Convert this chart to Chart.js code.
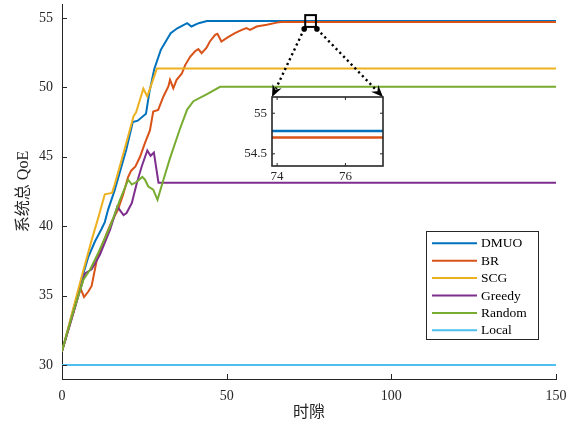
<!DOCTYPE html>
<html>
<head>
<meta charset="utf-8">
<script src="https://cdn.jsdelivr.net/npm/chart.js@4/dist/chart.umd.min.js"></script>
<style>
  html, body { margin: 0; padding: 0; background: #fff; }
  #wrap { position: relative; width: 574px; height: 425px; }
  #main { position: absolute; left: 0; top: 0; }
  #inset { position: absolute; left: 232px; top: 88px; }
</style>
</head>
<body>
<div id="wrap">
  <canvas id="main" width="574" height="425"></canvas>
  <canvas id="inset" width="156" height="100"></canvas>
</div>
<script>
// Series labels and colours
const seriesNames = ['DMUO', 'BR', 'SCG', 'Greedy', 'Random', 'Local'];
const seriesColors = ['#0072BD', '#D95319', '#EDB120', '#7E2F8E', '#77AC30', '#4DBEEE'];

// System QoE per time slot (slot index, value)
const dmuoSlot = [0, 3, 6, 8, 10, 12, 13, 14, 16, 19.5, 21.5, 23, 25.5, 26.5, 28, 30, 33, 35, 38, 39.3, 41.5, 44, 150];
const dmuoQoE  = [31.0, 33.6, 36.2, 37.8, 38.9, 39.8, 40.3, 41.2, 42.6, 45.5, 47.5, 47.6, 48.1, 49.6, 51.3, 52.7, 53.9, 54.25, 54.62, 54.38, 54.62, 54.78, 54.78];

const brSlot = [0, 2, 4, 5.5, 6.7, 8, 9, 10.5, 12, 13.6, 15, 17, 18.6, 20, 21, 22.3, 23.7, 25.2, 26.7, 27.7, 29.2, 30.8, 32.3, 32.8, 33.8, 34.8, 36.4, 37.4, 38.9, 40.4, 41.4, 42.4, 43.9, 44.9, 46.5, 47.2, 48.4, 50.3, 52.5, 54.6, 56, 57.1, 59.1, 62.2, 65.2, 66.5, 150];
const brQoE  = [31.0, 32.6, 34.2, 35.6, 34.9, 35.3, 35.7, 37.5, 38.5, 39.5, 40.3, 41.2, 42.3, 43.5, 44.0, 44.3, 45.0, 46.0, 46.9, 48.26, 48.38, 49.34, 50.06, 50.54, 49.94, 50.54, 51.0, 51.6, 52.2, 52.6, 52.75, 52.46, 52.85, 53.3, 53.78, 53.85, 53.3, 53.6, 53.9, 54.14, 54.26, 54.14, 54.38, 54.5, 54.66, 54.7, 54.7];

const scgSlot = [0, 3, 6, 9, 11, 13, 15.2, 16, 18, 20, 21.7, 22.5, 24.7, 25.9, 28.8, 150];
const scgQoE  = [31.0, 33.7, 36.4, 39.0, 40.6, 42.3, 42.4, 43.0, 44.7, 46.4, 47.9, 48.2, 49.9, 49.35, 51.35, 51.35];

const greedySlot = [0, 3, 7, 9, 11.5, 14.6, 16.8, 18.7, 19.6, 21.2, 22.7, 24.2, 25.9, 26.9, 27.9, 29.3, 150];
const greedyQoE  = [31.0, 33.4, 36.6, 36.9, 37.95, 39.75, 41.4, 40.8, 40.95, 41.67, 43.1, 44.3, 45.45, 45.07, 45.3, 43.13, 43.13];

const randomSlot = [0, 3, 6.5, 8.5, 11, 14.6, 17.6, 20.1, 21.2, 22.7, 24.4, 25.2, 26.2, 27.7, 29, 30.8, 32.8, 35.8, 38, 39.9, 43.9, 48, 150];
const randomQoE  = [31.0, 33.5, 36.15, 36.87, 38.07, 39.98, 41.9, 43.35, 43.0, 43.2, 43.55, 43.35, 42.86, 42.63, 41.9, 43.35, 44.9, 47.0, 48.4, 49.0, 49.5, 50.04, 50.04];

const localSlot = [0, 150];
const localQoE  = [30, 30];

// Axis ticks
const xTicks = [0, 50, 100, 150];
const yTicks = [30, 35, 40, 45, 50, 55];
const insetXTicks = [74, 76];
const insetYTicks = [54.5, 55];

// Magnified window
const zoomSlot = [73.85, 77.1];
const zoomQoE  = [54.35, 55.2];

const slotArrays = [dmuoSlot, brSlot, scgSlot, greedySlot, randomSlot, localSlot];
const qoeArrays  = [dmuoQoE, brQoE, scgQoE, greedyQoE, randomQoE, localQoE];

const axisColor = '#262626';
const serif = "'Liberation Serif', 'Times New Roman', serif";
const cjk = "'Liberation Serif', 'Noto Sans CJK SC', serif";

function makeDataset(i, width) {
  return {
    label: seriesNames[i],
    data: slotArrays[i].map((x, k) => ({ x: x, y: qoeArrays[i][k] })),
    borderColor: seriesColors[i],
    backgroundColor: seriesColors[i],
    borderWidth: width,
    pointRadius: 0,
    tension: 0,
    fill: false,
    order: seriesNames.length - 1 - i
  };
}

function fixedTicks(list) {
  return function (scale) { scale.ticks = list.map(v => ({ value: v })); };
}

// keep the plot area exactly where the layout padding puts it
function fixSize(prop, size) {
  return function (s) {
    s[prop] = size;
    s.paddingTop = 0; s.paddingBottom = 0; s.paddingLeft = 0; s.paddingRight = 0;
  };
}

const plainLabel = v => String(v);

// ---------- inset (magnified view) ----------
const insetFrame = {
  id: 'insetFrame',
  beforeDatasetsDraw(chart) {
    const a = chart.chartArea, ctx = chart.ctx;
    ctx.save();
    ctx.fillStyle = '#fff';
    ctx.fillRect(a.left, a.top, a.right - a.left, a.bottom - a.top);
    ctx.restore();
  },
  afterDraw(chart) {
    const a = chart.chartArea, ctx = chart.ctx;
    const sx = chart.scales.x, sy = chart.scales.y;
    ctx.save();
    ctx.strokeStyle = axisColor;
    ctx.lineWidth = 1;
    const t = 3;
    ctx.beginPath();
    insetXTicks.forEach(v => {
      const px = sx.getPixelForValue(v);
      ctx.moveTo(px, a.bottom); ctx.lineTo(px, a.bottom - t);
      ctx.moveTo(px, a.top); ctx.lineTo(px, a.top + t);
    });
    insetYTicks.forEach(v => {
      const py = sy.getPixelForValue(v);
      ctx.moveTo(a.left, py); ctx.lineTo(a.left + t, py);
      ctx.moveTo(a.right, py); ctx.lineTo(a.right - t, py);
    });
    ctx.stroke();
    ctx.lineWidth = 1.6;
    ctx.strokeRect(a.left, a.top, a.right - a.left, a.bottom - a.top);
    ctx.restore();
  }
};

const insetChart = new Chart(document.getElementById('inset'), {
  type: 'line',
  data: { datasets: [makeDataset(0, 2.5), makeDataset(1, 2.5)] },
  options: {
    responsive: false,
    animation: false,
    devicePixelRatio: 1,
    events: [],
    layout: { padding: { top: 9, right: 5, left: 0, bottom: 0 } },
    plugins: { legend: { display: false }, tooltip: { enabled: false } },
    scales: {
      x: {
        type: 'linear', min: zoomSlot[0], max: zoomSlot[1],
        afterBuildTicks: fixedTicks(insetXTicks),
        afterFit: fixSize('height', 22),
        grid: { drawOnChartArea: false, drawTicks: false },
        border: { display: false },
        ticks: { padding: 3, color: axisColor, font: { family: serif, size: 13 }, maxRotation: 0, autoSkip: false, callback: plainLabel }
      },
      y: {
        type: 'linear', min: zoomQoE[0], max: zoomQoE[1],
        afterBuildTicks: fixedTicks(insetYTicks),
        afterFit: fixSize('width', 40),
        grid: { drawOnChartArea: false, drawTicks: false },
        border: { display: false },
        ticks: { padding: 5, color: axisColor, font: { family: serif, size: 13 }, autoSkip: false, callback: plainLabel }
      }
    }
  },
  plugins: [insetFrame]
});

// ---------- main chart decorations ----------
const insetCanvas = document.getElementById('inset');

function arrowHead(ctx, x0, y0, x1, y1) {
  const ang = Math.atan2(y1 - y0, x1 - x0);
  const len = 12, half = 5, notch = 8;
  const c = Math.cos(ang), s = Math.sin(ang);
  const bx = x1 - len * c, by = y1 - len * s;
  ctx.beginPath();
  ctx.moveTo(x1, y1);
  ctx.lineTo(bx - half * s, by + half * c);
  ctx.lineTo(x1 - notch * c, y1 - notch * s);
  ctx.lineTo(bx + half * s, by - half * c);
  ctx.closePath();
  ctx.fill();
}

const decorations = {
  id: 'decorations',
  afterDraw(chart) {
    const ctx = chart.ctx, a = chart.chartArea;
    const sx = chart.scales.x, sy = chart.scales.y;
    ctx.save();

    // inward tick marks
    ctx.strokeStyle = axisColor;
    ctx.lineWidth = 1;
    ctx.beginPath();
    xTicks.forEach(v => {
      const px = Math.round(sx.getPixelForValue(v)) + 0.5;
      ctx.moveTo(px, a.bottom); ctx.lineTo(px, a.bottom - 5);
    });
    yTicks.forEach(v => {
      const py = Math.round(sy.getPixelForValue(v)) + 0.5;
      ctx.moveTo(a.left, py); ctx.lineTo(a.left + 5, py);
    });
    ctx.stroke();

    // magnified window outline
    const bl = sx.getPixelForValue(zoomSlot[0]), br = sx.getPixelForValue(zoomSlot[1]);
    const bt = sy.getPixelForValue(zoomQoE[1]), bb = sy.getPixelForValue(zoomQoE[0]);
    ctx.strokeStyle = '#000';
    ctx.lineWidth = 2;
    ctx.strokeRect(bl, bt, br - bl, bb - bt);

    // dotted connectors to the inset
    const ia = insetChart.chartArea;
    const ox = insetCanvas.offsetLeft, oy = insetCanvas.offsetTop;
    const targets = [[ox + ia.left, oy + ia.top], [ox + ia.right, oy + ia.top]];
    const starts = [[bl - 1, bb + 2], [br + 1, bb + 2]];
    ctx.fillStyle = '#000';
    for (let k = 0; k < 2; k++) {
      const [x0, y0] = starts[k], [x1, y1] = targets[k];
      const d = Math.hypot(x1 - x0, y1 - y0);
      const ex = x1 - (x1 - x0) * 9 / d, ey = y1 - (y1 - y0) * 9 / d;
      ctx.save();
      ctx.setLineDash([2.2, 3.2]);
      ctx.lineWidth = 2.4;
      ctx.lineCap = 'butt';
      ctx.beginPath();
      ctx.moveTo(x0, y0); ctx.lineTo(ex, ey);
      ctx.stroke();
      ctx.restore();
      ctx.beginPath();
      ctx.arc(x0, y0, 2.8, 0, Math.PI * 2);
      ctx.fill();
      arrowHead(ctx, x0, y0, x1, y1);
    }

    // legend
    const lgL = 426, lgT = 231, lgR = 538, lgB = 339;
    ctx.fillStyle = '#fff';
    ctx.fillRect(lgL, lgT, lgR - lgL, lgB - lgT);
    ctx.strokeStyle = axisColor;
    ctx.lineWidth = 1;
    ctx.strokeRect(lgL + 0.5, lgT + 0.5, lgR - lgL, lgB - lgT);
    ctx.font = '13.5px ' + serif;
    ctx.textBaseline = 'middle';
    ctx.textAlign = 'left';
    chart.data.datasets.forEach((ds, i) => {
      const y = 243.3 + i * 17.4;
      ctx.strokeStyle = ds.borderColor;
      ctx.lineWidth = 2;
      ctx.beginPath();
      ctx.moveTo(432, y); ctx.lineTo(477, y);
      ctx.stroke();
      ctx.fillStyle = '#000';
      ctx.fillText(ds.label, 481, y + 0.5);
    });

    ctx.restore();
  }
};

new Chart(document.getElementById('main'), {
  type: 'line',
  data: { datasets: seriesNames.map((_, i) => makeDataset(i, 2)) },
  options: {
    responsive: false,
    animation: false,
    devicePixelRatio: 1,
    events: [],
    layout: { padding: { top: 4, right: 18, left: 0, bottom: 0 } },
    plugins: { legend: { display: false }, tooltip: { enabled: false } },
    scales: {
      x: {
        type: 'linear', min: 0, max: 150,
        afterBuildTicks: fixedTicks(xTicks),
        afterFit: fixSize('height', 46),
        grid: { drawOnChartArea: false, drawTicks: false },
        border: { display: true, color: axisColor, width: 1 },
        ticks: { padding: 9, color: axisColor, font: { family: serif, size: 14 }, maxRotation: 0, autoSkip: false, callback: plainLabel },
        title: { display: true, text: '时隙', color: axisColor, font: { family: cjk, size: 16 }, padding: { top: 0, bottom: 3 } }
      },
      y: {
        type: 'linear', min: 29, max: 56,
        afterBuildTicks: fixedTicks(yTicks),
        afterFit: fixSize('width', 62),
        grid: { drawOnChartArea: false, drawTicks: false },
        border: { display: true, color: axisColor, width: 1 },
        ticks: { padding: 9, color: axisColor, font: { family: serif, size: 14 }, autoSkip: false, callback: plainLabel },
        title: { display: true, text: '系统总 QoE', color: axisColor, font: { family: cjk, size: 16 }, padding: { top: 14, bottom: 0 } }
      }
    }
  },
  plugins: [decorations]
});
</script>
</body>
</html>
